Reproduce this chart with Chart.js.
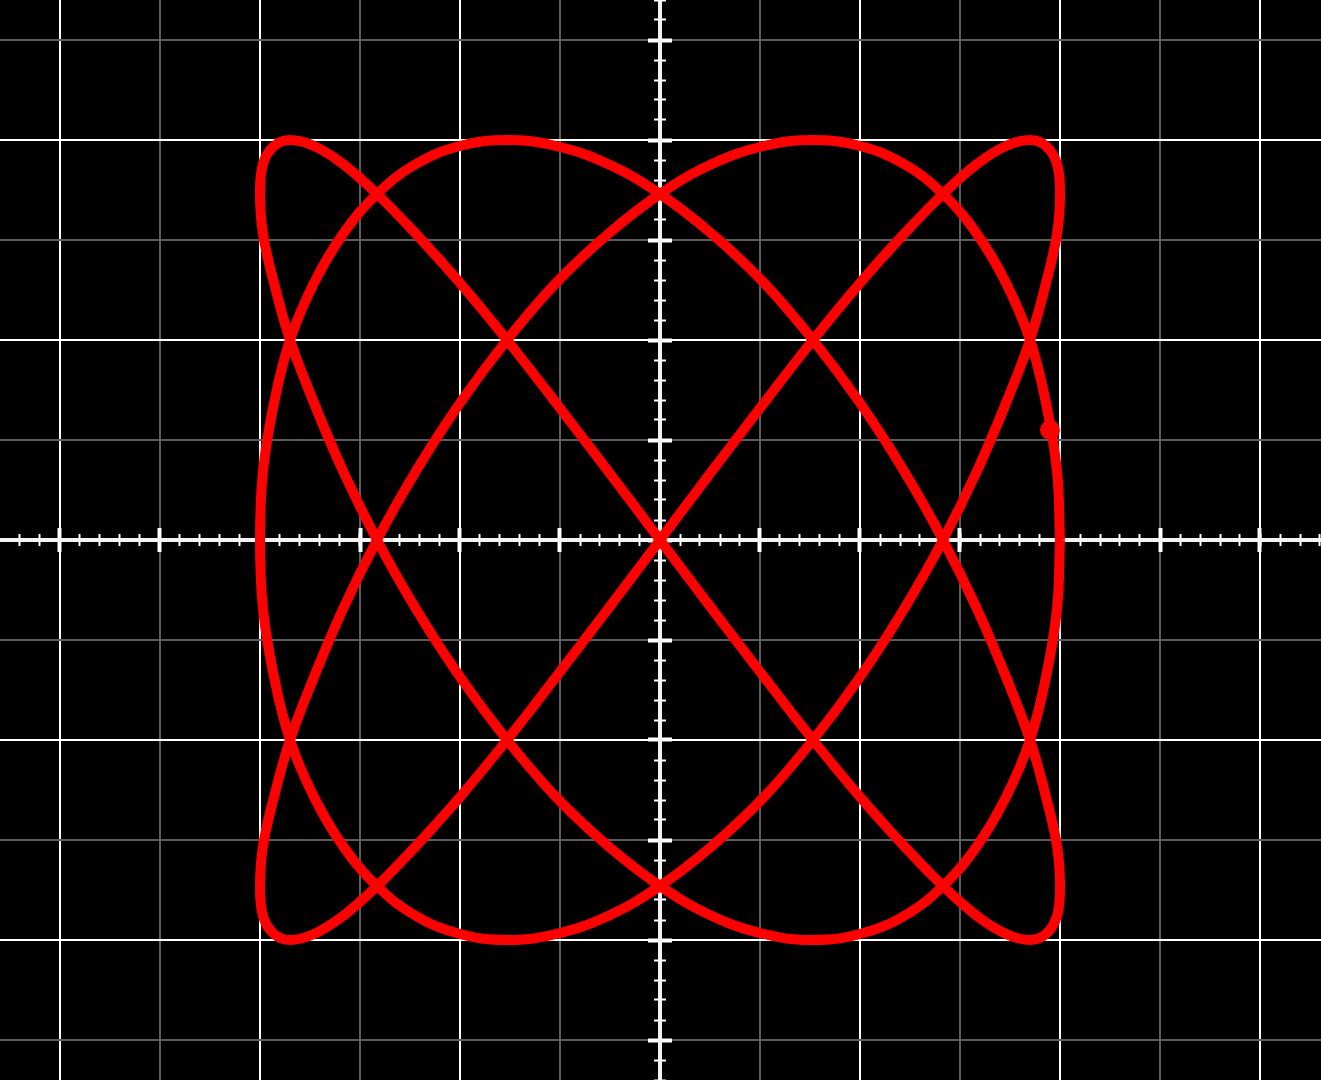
<!DOCTYPE html>
<html lang="en">
<head>
  <meta charset="UTF-8">
  <title>Lissajous 3:4</title>
  <script src="https://cdn.jsdelivr.net/npm/chart.js"></script>
  <style>
    html, body { margin: 0; padding: 0; background: #000; overflow: hidden; }
    canvas { display: block; }
  </style>
</head>
<body>
  <canvas id="curveChart" width="1321" height="1080"></canvas>
  <script>
    // curve samples (grid square = 1 unit, origin at the axes crossing)
    const curveX = [
      4, 3.97, 3.86, 3.70, 3.46, 3.17, 2.83, 2.44, 2, 1.53, 1.04, 0.52,
      0, -0.52, -1.04, -1.53, -2, -2.44, -2.83, -3.17, -3.46, -3.70, -3.86, -3.97,
      -4, -3.97, -3.86, -3.70, -3.46, -3.17, -2.83, -2.44, -2, -1.53, -1.04, -0.52,
      0, 0.52, 1.04, 1.53, 2, 2.44, 2.83, 3.17, 3.46, 3.70, 3.86, 3.97,
      4, 3.97, 3.86, 3.70, 3.46, 3.17, 2.83, 2.44, 2, 1.53, 1.04, 0.52,
      0, -0.52, -1.04, -1.53, -2, -2.44, -2.83, -3.17, -3.46, -3.70, -3.86, -3.97,
      -4, -3.97, -3.86, -3.70, -3.46, -3.17, -2.83, -2.44, -2, -1.53, -1.04, -0.52,
      0, 0.52, 1.04, 1.53, 2, 2.44, 2.83, 3.17, 3.46, 3.70, 3.86, 3.97,
      4, 3.97, 3.86, 3.70, 3.46, 3.17, 2.83, 2.44, 2, 1.53, 1.04, 0.52,
      0, -0.52, -1.04, -1.53, -2, -2.44, -2.83, -3.17, -3.46, -3.70, -3.86, -3.97,
      -4, -3.97, -3.86, -3.70, -3.46, -3.17, -2.83, -2.44, -2, -1.53, -1.04, -0.52,
      0, 0.52, 1.04, 1.53, 2, 2.44, 2.83, 3.17, 3.46, 3.70, 3.86, 3.97,
      4
    ];
    const curveY = [
      0, 0.69, 1.37, 2, 2.57, 3.06, 3.46, 3.76, 3.94, 4, 3.94, 3.76,
      3.46, 3.06, 2.57, 2, 1.37, 0.69, 0, -0.69, -1.37, -2, -2.57, -3.06,
      -3.46, -3.76, -3.94, -4, -3.94, -3.76, -3.46, -3.06, -2.57, -2, -1.37, -0.69,
      0, 0.69, 1.37, 2, 2.57, 3.06, 3.46, 3.76, 3.94, 4, 3.94, 3.76,
      3.46, 3.06, 2.57, 2, 1.37, 0.69, 0, -0.69, -1.37, -2, -2.57, -3.06,
      -3.46, -3.76, -3.94, -4, -3.94, -3.76, -3.46, -3.06, -2.57, -2, -1.37, -0.69,
      0, 0.69, 1.37, 2, 2.57, 3.06, 3.46, 3.76, 3.94, 4, 3.94, 3.76,
      3.46, 3.06, 2.57, 2, 1.37, 0.69, 0, -0.69, -1.37, -2, -2.57, -3.06,
      -3.46, -3.76, -3.94, -4, -3.94, -3.76, -3.46, -3.06, -2.57, -2, -1.37, -0.69,
      0, 0.69, 1.37, 2, 2.57, 3.06, 3.46, 3.76, 3.94, 4, 3.94, 3.76,
      3.46, 3.06, 2.57, 2, 1.37, 0.69, 0, -0.69, -1.37, -2, -2.57, -3.06,
      -3.46, -3.76, -3.94, -4, -3.94, -3.76, -3.46, -3.06, -2.57, -2, -1.37, -0.69,
      0
    ];
    // the marker dot on the right lobe
    const markerX = [3.9];
    const markerY = [1.1];

    // visible window
    const xRange = [-6.6, 6.61];
    const yRange = [-5.4, 5.4];

    const curvePoints = curveX.map((x, i) => ({ x: x, y: curveY[i] }));
    const markerPoints = markerX.map((x, i) => ({ x: x, y: markerY[i] }));

    const white = '#ffffff';
    const gray = '#5c5c5c';

    function gridColor(ctx) {
      const v = Math.abs(Math.round(ctx.tick.value));
      return v % 2 === 0 ? white : gray;
    }

    // scale that only draws tick marks across the centred axis
    function tickScale(axis, range, step, len, width) {
      return {
        type: 'linear',
        axis: axis,
        position: axis === 'x' ? { y: 0 } : { x: 0 },
        min: range[0],
        max: range[1],
        ticks: { display: false, stepSize: step, includeBounds: false, autoSkip: false, maxTicksLimit: 200 },
        grid: { drawOnChartArea: false, drawTicks: true, tickLength: len, tickWidth: width, tickColor: white },
        border: { display: false }
      };
    }

    function axisLine(axis, range) {
      return {
        type: 'linear',
        axis: axis,
        position: axis === 'x' ? { y: 0 } : { x: 0 },
        min: range[0],
        max: range[1],
        ticks: { display: false, stepSize: 1, includeBounds: false },
        grid: { drawOnChartArea: false, drawTicks: false },
        border: { display: true, color: '#f2f2f2', width: 4 }
      };
    }

    const ctx = document.getElementById('curveChart').getContext('2d');
    new Chart(ctx, {
      type: 'scatter',
      data: {
        datasets: [
          {
            data: curvePoints,
            xAxisID: 'x',
            yAxisID: 'y',
            showLine: true,
            borderColor: 'rgb(255, 0, 0)',
            borderWidth: 10,
            tension: 0.4,
            pointRadius: 0,
            pointHoverRadius: 0,
            fill: false
          },
          {
            data: markerPoints,
            xAxisID: 'x',
            yAxisID: 'y',
            showLine: false,
            pointRadius: 10,
            pointBackgroundColor: 'rgb(255, 0, 0)',
            pointBorderWidth: 0
          }
        ]
      },
      options: {
        responsive: false,
        animation: false,
        layout: { padding: 0, autoPadding: false },
        plugins: {
          legend: { display: false },
          tooltip: { enabled: false }
        },
        scales: {
          x: {
            type: 'linear',
            position: 'bottom',
            min: xRange[0],
            max: xRange[1],
            ticks: { display: false, stepSize: 1, includeBounds: false },
            grid: { color: gridColor, lineWidth: 2, drawTicks: false },
            border: { display: false }
          },
          y: {
            type: 'linear',
            position: 'left',
            min: yRange[0],
            max: yRange[1],
            ticks: { display: false, stepSize: 1, includeBounds: false },
            grid: { color: gridColor, lineWidth: 2, drawTicks: false },
            border: { display: false }
          },
          xLine: axisLine('x', xRange),
          yLine: axisLine('y', yRange),
          xMinorDown: tickScale('x', xRange, 0.2, 6, 2),
          xMinorUp: tickScale('x', xRange, 0.2, -6, 2),
          xMajorDown: tickScale('x', xRange, 1, 12, 4),
          xMajorUp: tickScale('x', xRange, 1, -12, 4),
          yMinorLeft: tickScale('y', yRange, 0.2, 6, 2),
          yMinorRight: tickScale('y', yRange, 0.2, -6, 2),
          yMajorLeft: tickScale('y', yRange, 1, 12, 4),
          yMajorRight: tickScale('y', yRange, 1, -12, 4)
        }
      }
    });
  </script>
</body>
</html>
